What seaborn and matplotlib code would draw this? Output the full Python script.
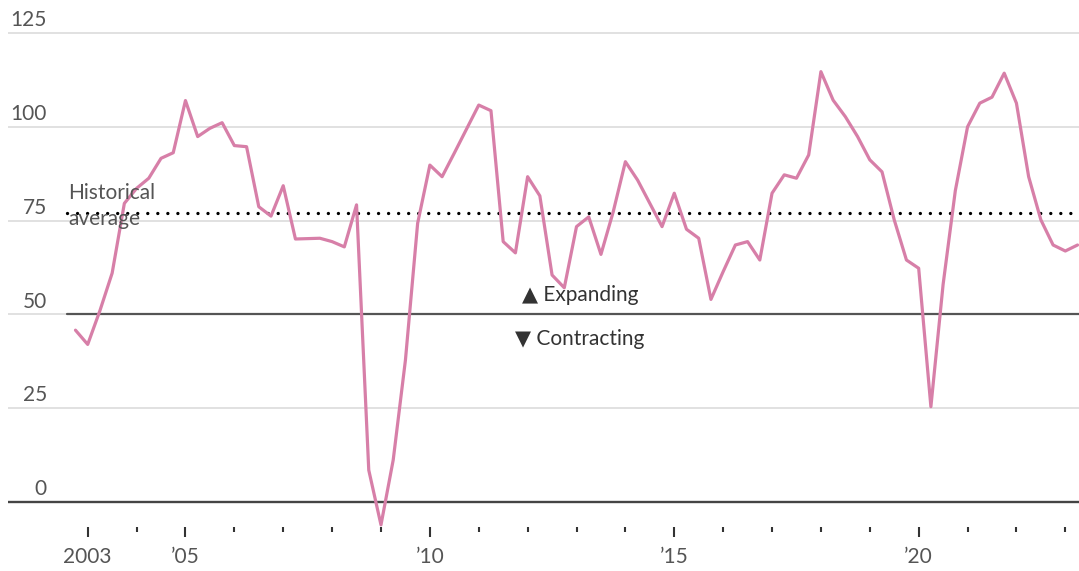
import numpy as np
import pandas as pd
import matplotlib
matplotlib.use("Agg")
import matplotlib.pyplot as plt
import seaborn as sns

# Quarterly index readings, starting with the fourth quarter of 2002
first_quarter = "2002Q4"
index_values = [45.8, 42.0, 51.0, 61.0, 79.6, 83.6, 86.3, 91.6, 93.1, 107.0,
                97.4, 99.6, 101.1, 95.0, 94.7, 78.7, 76.2, 84.3, 70.1, 70.2,
                70.3, 69.4, 68.0, 79.2, 8.5, -6.1, 11.2, 37.8, 74.3, 89.8,
                86.7, 93.0, 99.4, 105.8, 104.3, 69.4, 66.4, 86.7, 81.6, 60.5,
                57.1, 73.4, 76.0, 66.0, 77.3, 90.7, 85.8, 79.6, 73.4, 82.3,
                72.7, 70.3, 54.0, 61.4, 68.5, 69.4, 64.5, 82.3, 87.2, 86.3,
                92.5, 114.7, 107.1, 102.7, 97.4, 91.2, 88.0, 75.2, 64.5, 62.3,
                25.4, 58.0, 83.0, 100.0, 106.3, 107.9, 114.3, 106.3, 86.7, 75.2,
                68.5, 66.9, 68.5]
historical_average = 77.1
threshold = 50
y_ticks = [0, 25, 50, 75, 100, 125]
year_ticks = list(range(2003, 2024))
labeled_years = [2003, 2005, 2010, 2015, 2020]
year_labels = ["2003", "\u201905", "\u201910", "\u201915", "\u201920"]

periods = pd.period_range(first_quarter, periods=len(index_values), freq="Q")
df = pd.DataFrame({
    "t": periods.year + (periods.quarter - 1) / 4.0,
    "value": index_values,
})

sns.set_theme(style="white")
plt.rcParams["font.family"] = ["Lato", "DejaVu Sans"]

LINE = "#d77fa8"
TEXT = "#555555"

W, H = 1079, 571
fig = plt.figure(figsize=(W / 100, H / 100), dpi=100)
ax = fig.add_axes([8 / W, 1 - 527 / H, (W - 8) / W, (527 - 3) / H])

ax.set_xlim(2001.3695, 2023.28)
ax.set_ylim(-6.66, 133.0)

# horizontal guides
ax.set_yticks(y_ticks)
ax.yaxis.grid(True, color="#dedede", lw=1.3)
ax.xaxis.grid(False)
ax.axhline(0, color="#444444", lw=1.7, zorder=2)
ax.axhline(threshold, xmin=0.0551, color="#555555", lw=1.6, zorder=2)
ax.axhline(historical_average, xmin=0.0551, color="black", lw=2.4,
           ls=(0, (0.01, 3.0)), dash_capstyle="round", zorder=3)

sns.lineplot(data=df, x="t", y="value", ax=ax, color=LINE, lw=2.3,
             zorder=4, clip_on=False)

for s in ax.spines.values():
    s.set_visible(False)

# y labels sit above their gridlines
ax.tick_params(axis="y", length=0, labelleft=False)
ytrans = ax.get_yaxis_transform()
for v in y_ticks:
    ax.annotate(str(v), xy=(0.0364, v), xycoords=ytrans, xytext=(0, 2),
                textcoords="offset points", ha="right", va="bottom",
                fontsize=15, color=TEXT)

# year ticks
ax.set_xticks(labeled_years)
ax.set_xticklabels(year_labels)
ax.set_xticks(year_ticks, minor=True)
ax.tick_params(axis="x", which="major", direction="out", length=7.5,
               width=1.5, color="#333333", pad=7, labelsize=15,
               labelcolor=TEXT, bottom=True)
ax.tick_params(axis="x", which="minor", direction="out", length=3.6,
               width=1.5, color="#333333", bottom=True)
ax.set_xlabel("")
ax.set_ylabel("")

# annotations
ax.text(2002.6, 80.7, "Historical", fontsize=15, color=TEXT,
        ha="left", va="baseline", zorder=5)
ax.text(2002.6, 73.8, "average", fontsize=15, color=TEXT,
        ha="left", va="baseline", zorder=5)
ax.text(2013.07, 53.6, "\u25B2 Expanding", fontsize=15, color="#333333",
        ha="center", va="baseline")
ax.text(2013.07, 41.8, "\u25BC Contracting", fontsize=15, color="#333333",
        ha="center", va="baseline")

fig.savefig("out.png", dpi=100)
